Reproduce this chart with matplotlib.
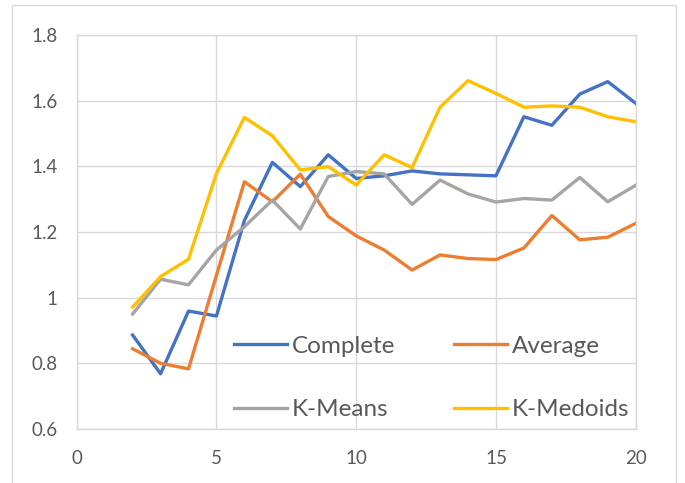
import matplotlib
matplotlib.use("Agg")
import matplotlib.pyplot as plt
from matplotlib.patches import Rectangle

# data
k = [2, 3, 4, 5, 6, 7, 8, 9, 10, 11, 12, 13, 14, 15, 16, 17, 18, 19, 20]
complete = [0.886, 0.768, 0.959, 0.944, 1.235, 1.412, 1.338, 1.435, 1.363, 1.371, 1.386,
            1.377, 1.374, 1.371, 1.551, 1.525, 1.620, 1.658, 1.592]
average = [0.844, 0.800, 0.783, 1.068, 1.353, 1.292, 1.376, 1.247, 1.188, 1.145, 1.084,
           1.130, 1.119, 1.116, 1.151, 1.250, 1.176, 1.184, 1.226]
kmeans = [0.950, 1.056, 1.039, 1.145, 1.216, 1.297, 1.209, 1.369, 1.384, 1.377, 1.284,
          1.358, 1.316, 1.291, 1.302, 1.297, 1.366, 1.292, 1.342]
kmedoids = [0.971, 1.064, 1.117, 1.378, 1.549, 1.493, 1.389, 1.399, 1.343, 1.435, 1.396,
            1.580, 1.661, 1.622, 1.580, 1.584, 1.580, 1.551, 1.536]

series = [
    ("Complete", complete, "#4472C4"),
    ("Average", average, "#ED7D31"),
    ("K-Means", kmeans, "#A5A5A5"),
    ("K-Medoids", kmedoids, "#FFC000"),
]

plt.rcParams['font.family'] = ['Lato', 'DejaVu Sans']
text_color = "#595959"
grid_color = "#D9D9D9"

fig = plt.figure(figsize=(6.85, 4.83), dpi=100)
ax = fig.add_axes([0.112, 0.112, 0.816, 0.8155])

lines = {}
for name, vals, col in series:
    lines[name], = ax.plot(k, vals, color=col, linewidth=2.4, label=name)

ax.set_xlim(0, 20)
ax.set_ylim(0.6, 1.8)
ax.set_xticks([0, 5, 10, 15, 20])
ax.set_yticks([0.6, 0.8, 1.0, 1.2, 1.4, 1.6, 1.8])
ax.set_yticklabels(["0.6", "0.8", "1", "1.2", "1.4", "1.6", "1.8"])
ax.grid(True, color=grid_color, linewidth=1.0)
ax.set_axisbelow(True)
for sp in ax.spines.values():
    sp.set_color(grid_color)
    sp.set_linewidth(1.0)
ax.tick_params(length=0, labelsize=13.5, colors=text_color)
ax.tick_params(axis='y', pad=14)
ax.tick_params(axis='x', pad=15)

# legend filled row by row (matplotlib fills by column, so reorder)
order = ["Complete", "K-Means", "Average", "K-Medoids"]
leg = ax.legend([lines[n] for n in order], order,
                loc='center', bbox_to_anchor=(0.63, 0.217), bbox_transform=fig.transFigure,
                ncol=2, frameon=False, fontsize=17.5, handlelength=2.2,
                handletextpad=0.2, columnspacing=2.4, labelspacing=1.75)
for t in leg.get_texts():
    t.set_color(text_color)

# outer chart-area border
fig.patches.append(Rectangle((12 / 685, -0.05), (676 - 12) / 685, 1 - 5 / 483 + 0.05,
                             transform=fig.transFigure, fill=False,
                             edgecolor=grid_color, linewidth=1.0))

fig.savefig("out.png", dpi=100)
